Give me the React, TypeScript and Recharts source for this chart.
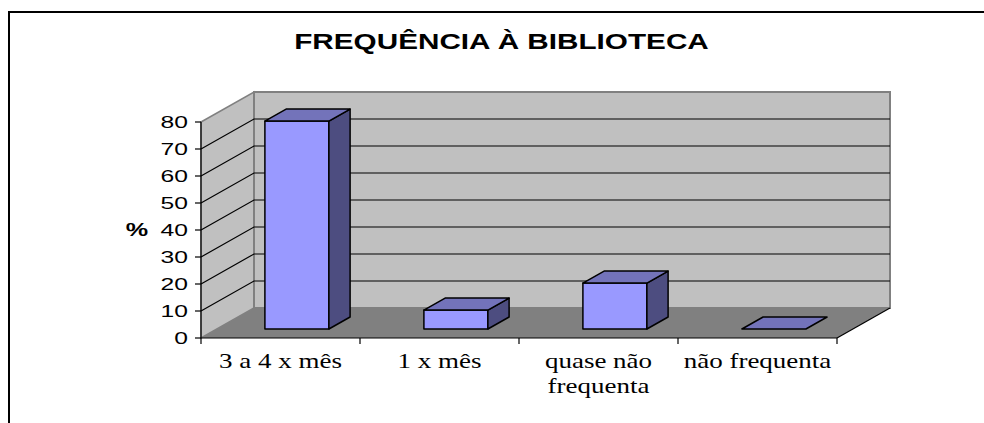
import { BarChart, Bar, XAxis, YAxis, ReferenceArea } from 'recharts'

const chartTitle = 'FREQUÊNCIA À BIBLIOTECA'
const categories = ['3 a 4 x mês', '1 x mês', 'quase não\nfrequenta', 'não frequenta']
const percentages = [77, 7, 17, 0]
const yTicks = [0, 10, 20, 30, 40, 50, 60, 70, 80]
const yLabel = '%'

const data = categories.map((name, i) => ({ name, value: percentages[i] }))

// oblique "3D" depth of the plot box
const DEPTH_X = 53
const DEPTH_Y = -30
const BAR_FRONT = 0.3
const BAR_DEPTH = 0.4

const SANS = "'Liberation Sans', Arial, sans-serif"
const SERIF = "'Liberation Serif', 'Times New Roman', serif"

function Walls(props: any) {
    const { x, y, width, height } = props
    const bottom = y + height
    const max = yTicks[yTicks.length - 1]
    const gridYs = yTicks.filter(t => t > 0 && t < max).map(t => bottom - (t / max) * height)
    const step = width / categories.length
    const pts = (arr: number[][]) => arr.map(p => p.join(',')).join(' ')

    return (
        <g>
            {/* floor */}
            <polygon
                points={pts([[x, bottom], [x + width, bottom], [x + width + DEPTH_X, bottom + DEPTH_Y], [x + DEPTH_X, bottom + DEPTH_Y]])}
                fill="#808080"
            />
            {/* left wall */}
            <polygon
                points={pts([[x, y], [x + DEPTH_X, y + DEPTH_Y], [x + DEPTH_X, bottom + DEPTH_Y], [x, bottom]])}
                fill="#C0C0C0"
                stroke="#808080"
                strokeWidth={1.5}
            />
            {/* back wall */}
            <rect x={x + DEPTH_X} y={y + DEPTH_Y} width={width} height={height} fill="#C0C0C0" stroke="#808080" strokeWidth={2} />
            <line x1={x + width} y1={bottom} x2={x + width + DEPTH_X} y2={bottom + DEPTH_Y} stroke="#000" strokeWidth={1.2} />
            {gridYs.map((gy, i) => (
                <polyline
                    key={`grid-${i}`}
                    points={pts([[x, gy], [x + DEPTH_X, gy + DEPTH_Y], [x + width + DEPTH_X, gy + DEPTH_Y]])}
                    fill="none"
                    stroke="#000"
                    strokeWidth={1.2}
                />
            ))}
            {/* category boundary ticks */}
            {categories.concat(['']).map((_, i) => (
                <line key={`tick-${i}`} x1={x + i * step} y1={bottom} x2={x + i * step} y2={bottom + 6} stroke="#000" strokeWidth={1.2} />
            ))}
        </g>
    )
}

function Box3D(props: any) {
    const { x, y, width, height } = props
    if (x == null || y == null) return null
    const fx = x + DEPTH_X * BAR_FRONT
    const fy = y + DEPTH_Y * BAR_FRONT
    const dx = DEPTH_X * BAR_DEPTH
    const dy = DEPTH_Y * BAR_DEPTH
    const h = Math.max(height || 0, 0)
    const pts = (arr: number[][]) => arr.map(p => p.join(',')).join(' ')

    return (
        <g stroke="#000" strokeWidth={1.5} strokeLinejoin="round">
            {h > 0 && <rect x={fx} y={fy} width={width} height={h} fill="#9999FF" />}
            {h > 0 && (
                <polygon
                    points={pts([[fx + width, fy], [fx + width + dx, fy + dy], [fx + width + dx, fy + h + dy], [fx + width, fy + h]])}
                    fill="#4D4D80"
                />
            )}
            <polygon points={pts([[fx, fy], [fx + width, fy], [fx + width + dx, fy + dy], [fx + dx, fy + dy]])} fill="#7373BA" />
        </g>
    )
}

function ValueTick({ x, y, payload }: any) {
    return (
        <text
            transform={`translate(${x},${y}) scale(1.45,1)`}
            textAnchor="end"
            dy="0.36em"
            fontFamily={SANS}
            fontSize={17}
            fill="#000"
        >
            {payload.value}
        </text>
    )
}

function CategoryTick({ x, y, payload }: any) {
    const lines = String(payload.value).split('\n')
    return (
        <g transform={`translate(${x},${y}) scale(1.35,1)`}>
            {lines.map((line, i) => (
                <text key={i} x={0} y={22 + i * 25} textAnchor="middle" fontFamily={SERIF} fontSize={20} fill="#000">
                    {line}
                </text>
            ))}
        </g>
    )
}

function UnitLabel(props: any) {
    const vb = props.viewBox || { x: 141, y: 122, width: 60, height: 216 }
    return (
        <text
            transform={`translate(${vb.x - 4},${vb.y + vb.height / 2}) scale(1.4,1)`}
            textAnchor="middle"
            dy="0.36em"
            fontFamily={SANS}
            fontWeight="bold"
            fontSize={18}
            fill="#000"
        >
            {yLabel}
        </text>
    )
}

export default function App() {
    return (
        <div style={{ position: 'absolute', left: 0, top: 0, width: 984, height: 423, overflow: 'hidden', background: '#fff' }}>
            <svg width={984} height={423} style={{ position: 'absolute', left: 0, top: 0 }}>
                {/* outer chart frame: only the left and top edges fall inside the picture */}
                <path d="M9,423 L9,12 L984,12" fill="none" stroke="#000" strokeWidth={2} />
                <text
                    transform="translate(501.5,48.5) scale(1.35,1)"
                    textAnchor="middle"
                    fontFamily={SANS}
                    fontWeight="bold"
                    fontSize={22}
                    fill="#000"
                >
                    {chartTitle}
                </text>
            </svg>
            <div style={{ position: 'absolute', left: 0, top: 0 }}>
                <BarChart width={984} height={423} data={data} margin={{ top: 122, right: 147, bottom: 25, left: 141 }}>
                    <ReferenceArea y1={0} y2={80} shape={Walls} ifOverflow="visible" />
                    <Bar dataKey="value" barSize={64} shape={Box3D} isAnimationActive={false} />
                    <XAxis
                        dataKey="name"
                        interval={0}
                        height={60}
                        tickLine={false}
                        axisLine={{ stroke: '#000', strokeWidth: 1.2 }}
                        tick={<CategoryTick />}
                    />
                    <YAxis
                        domain={[0, 80]}
                        ticks={yTicks}
                        interval={0}
                        width={60}
                        tickSize={6}
                        tickMargin={7}
                        tickLine={{ stroke: '#000', strokeWidth: 1.2 }}
                        axisLine={{ stroke: '#000', strokeWidth: 1.2 }}
                        tick={<ValueTick />}
                        label={{ value: yLabel, content: (p: any) => <UnitLabel {...p} /> }}
                    />
                </BarChart>
            </div>
        </div>
    )
}
